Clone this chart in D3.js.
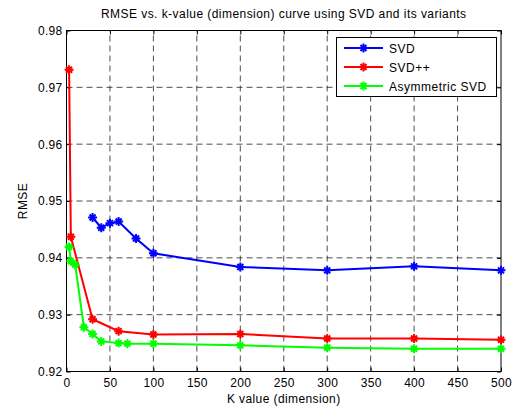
<!DOCTYPE html>
<html><head><meta charset="utf-8">
<script src="https://cdn.jsdelivr.net/npm/d3@7"></script>
<style>
body{margin:0;background:#fff;}
text{font-family:"Liberation Sans",Arial,sans-serif;}
</style></head>
<body><svg id="c" width="518" height="411"></svg>
<script>
const title = "RMSE vs. k-value (dimension) curve using SVD and its variants";
const xLabel = "K value (dimension)";
const yLabel = "RMSE";
const xTicks = [0,50,100,150,200,250,300,350,400,450,500];
const yTicks = [0.92,0.93,0.94,0.95,0.96,0.97,0.98];

const svdK = [30,40,50,60,80,100,200,300,400,500];
const svdRMSE = [0.9471,0.9453,0.9461,0.9464,0.9434,0.9408,0.9384,0.9378,0.9385,0.9378];

const svdppK = [3,5,30,60,100,200,300,400,500];
const svdppRMSE = [0.9731,0.9437,0.9292,0.9271,0.9265,0.9266,0.9258,0.9258,0.9256];

const asymK = [3,5,10,20,30,40,60,70,100,200,300,400,500];
const asymRMSE = [0.9419,0.9394,0.9388,0.9278,0.9266,0.9253,0.9250,0.9249,0.9249,0.9246,0.9242,0.9240,0.9240];

const seriesNames = ["SVD","SVD++","Asymmetric SVD"];
const seriesColors = ["#0000ff","#ff0000","#00ff00"];

const series = [
  {name:seriesNames[0], color:seriesColors[0], k:svdK, v:svdRMSE},
  {name:seriesNames[1], color:seriesColors[1], k:svdppK, v:svdppRMSE},
  {name:seriesNames[2], color:seriesColors[2], k:asymK, v:asymRMSE}
];

const svg = d3.select("#c");
const L=66.5, R=501, T=30.5, B=371.5;
const x = d3.scaleLinear().domain([0,500]).range([L,R]);
const y = d3.scaleLinear().domain([0.92,0.98]).range([B,T]);

// grid
const g = svg.append("g");
g.selectAll(".vg").data(xTicks.slice(1,-1)).join("line")
  .attr("x1",d=>x(d)).attr("x2",d=>x(d)).attr("y1",B).attr("y2",T)
  .attr("stroke","#222").attr("stroke-width",0.8).attr("stroke-dasharray","6,4");
g.selectAll(".hg").data(yTicks.slice(1,-1)).join("line")
  .attr("y1",d=>y(d)).attr("y2",d=>y(d)).attr("x1",L).attr("x2",R)
  .attr("stroke","#222").attr("stroke-width",0.8).attr("stroke-dasharray","6,4");

// axes
const ax = svg.append("g").attr("transform",`translate(0,${B})`)
  .call(d3.axisBottom(x).tickValues(xTicks).tickSize(-4).tickPadding(7).tickFormat(d3.format("d")));
const axT = svg.append("g").attr("transform",`translate(0,${T})`)
  .call(d3.axisTop(x).tickValues(xTicks).tickSize(-4).tickFormat(""));
const ay = svg.append("g").attr("transform",`translate(${L},0)`)
  .call(d3.axisLeft(y).tickValues(yTicks).tickSize(-4).tickPadding(4).tickFormat(d3.format(".2f")));
const ayR = svg.append("g").attr("transform",`translate(${R},0)`)
  .call(d3.axisRight(y).tickValues(yTicks).tickSize(-4).tickFormat(""));
[ax,axT,ay,ayR].forEach(a=>{
  a.select(".domain").remove();
  a.selectAll("line").attr("stroke","#000");
  a.selectAll("text").attr("font-size",12).attr("fill","#000").attr("letter-spacing",0.3)
   .style("font-family","'Liberation Sans',Arial,sans-serif");
});
svg.append("rect").attr("x",L).attr("y",T).attr("width",R-L).attr("height",B-T)
  .attr("fill","none").attr("stroke","#000").attr("stroke-width",1);

// markers
function star(s){
  const a=4.5, b=3;
  return `M${-a},0L${a},0M0,${-a}L0,${a}M${-b},${-b}L${b},${b}M${-b},${b}L${b},${-b}`;
}
const line = d3.line().x(d=>x(d[0])).y(d=>y(d[1]));
series.forEach(s=>{
  const pts = s.k.map((k,i)=>[k,s.v[i]]);
  svg.append("path").datum(pts).attr("d",line).attr("fill","none")
    .attr("stroke",s.color).attr("stroke-width",2);
  svg.append("g").selectAll("path").data(pts).join("path")
    .attr("transform",d=>`translate(${x(d[0])},${y(d[1])})`)
    .attr("d",star()).attr("stroke",s.color).attr("stroke-width",2).attr("fill","none");
});

// legend
const lg = svg.append("g");
lg.append("rect").attr("x",336.5).attr("y",37.5).attr("width",160).attr("height",59)
  .attr("fill","#fff").attr("stroke","#000").attr("stroke-width",1);
series.forEach((s,i)=>{
  const yy = 48 + i*19;
  lg.append("line").attr("x1",344).attr("x2",383).attr("y1",yy).attr("y2",yy)
    .attr("stroke",s.color).attr("stroke-width",2);
  lg.append("path").attr("transform",`translate(363.5,${yy})`).attr("d",star())
    .attr("stroke",s.color).attr("stroke-width",2).attr("fill","none");
  lg.append("text").attr("x",389).attr("y",yy+4.5).attr("font-size",12)
    .attr("letter-spacing",0.5).text(s.name);
});

// labels
svg.append("text").attr("x",(L+R)/2).attr("y",18).attr("text-anchor","middle")
  .attr("font-size",12).attr("letter-spacing",0.45).text(title);
svg.append("text").attr("x",(L+R)/2).attr("y",403).attr("text-anchor","middle")
  .attr("font-size",12).attr("letter-spacing",0.4).text(xLabel);
svg.append("text").attr("transform",`translate(27,${(T+B)/2}) rotate(-90)`)
  .attr("text-anchor","middle").attr("font-size",12).attr("letter-spacing",0.4).text(yLabel);
</script></body></html>
